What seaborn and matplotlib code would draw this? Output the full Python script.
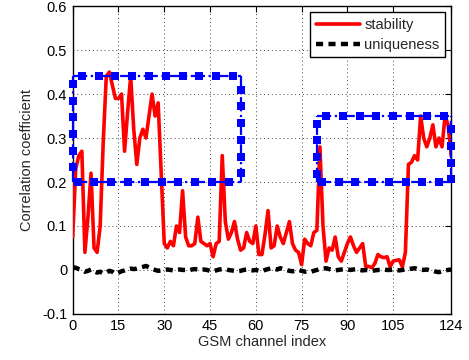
import numpy as np
import pandas as pd
import matplotlib
matplotlib.use("Agg")
import matplotlib.pyplot as plt
import seaborn as sns

# ---- data ----
stability = [
    0.075, 0.23, 0.26, 0.27, 0.04, 0.12, 0.22, 0.05, 0.04, 0.10,
    0.29, 0.44, 0.45, 0.42, 0.39, 0.39, 0.40, 0.27, 0.36, 0.44,
    0.32, 0.24, 0.30, 0.32, 0.30, 0.35, 0.40, 0.35, 0.38, 0.22,
    0.06, 0.05, 0.065, 0.055, 0.10, 0.085, 0.18, 0.075, 0.055, 0.055,
    0.06, 0.12, 0.065, 0.06, 0.055, 0.06, 0.03, 0.06, 0.065, 0.26,
    0.11, 0.07, 0.085, 0.11, 0.07, 0.045, 0.05, 0.085, 0.065, 0.06,
    0.10, 0.035, 0.035, 0.08, 0.135, 0.05, 0.055, 0.10, 0.075, 0.06,
    0.085, 0.11, 0.06, 0.045, 0.04, 0.012, 0.07, 0.06, 0.055, 0.085,
    0.09, 0.28, 0.10, 0.02, 0.05, 0.045, 0.075, 0.03, 0.02, 0.04,
    0.06, 0.075, 0.055, 0.04, 0.05, 0.06, 0.008, 0.008, 0.005, 0.015,
    0.035, 0.03, 0.028, 0.03, 0.007, 0.02, 0.022, 0.023, 0.007, 0.04,
    0.24, 0.245, 0.26, 0.25, 0.35, 0.30, 0.28, 0.30, 0.33, 0.28,
    0.30, 0.28, 0.35, 0.33, 0.26,
]
uniqueness = [
    0.006, 0.005, 0.002, 0.000, -0.004, -0.002, 0.001, -0.003, -0.006, -0.004,
    -0.008, -0.006, -0.002, -0.004, -0.009, -0.006, -0.003, -0.001, 0.002, 0.003,
    0.002, 0.003, 0.005, 0.007, 0.009, 0.006, 0.002, 0.000, -0.002, -0.001,
    0.000, 0.001, 0.000, -0.001, 0.000, 0.001, 0.000, 0.000, -0.001, 0.001,
    0.002, 0.001, 0.000, 0.001, 0.000, -0.002, -0.003, -0.001, 0.001, 0.002,
    0.002, 0.000, -0.001, -0.002, -0.003, -0.002, 0.000, 0.001, 0.000, -0.001,
    0.000, -0.002, -0.003, 0.000, 0.002, 0.004, 0.003, 0.001, 0.004, 0.002,
    0.000, -0.002, -0.003, -0.002, 0.000, -0.002, -0.004, -0.003, -0.004, -0.002,
    0.000, 0.002, 0.003, 0.004, 0.002, 0.000, -0.001, 0.000, 0.001, 0.002,
    0.001, 0.000, 0.001, 0.002, 0.000, -0.001, 0.000, -0.001, -0.002, -0.001,
    0.000, 0.000, 0.001, 0.000, 0.000, 0.001, 0.000, -0.001, 0.000, 0.001,
    0.002, 0.003, 0.004, 0.002, 0.001, 0.000, 0.001, -0.001, -0.002, -0.004,
    -0.005, -0.003, -0.001, 0.000, 0.001,
]
channel = list(range(len(stability)))

# highlighted regions: (x_start, x_end), (y_low, y_high)
box_x = [(0, 55), (80, 124)]
box_y = [(0.20, 0.44), (0.20, 0.35)]

xticks = [0, 15, 30, 45, 60, 75, 90, 105, 124]
yticks = [-0.1, 0, 0.1, 0.2, 0.3, 0.4, 0.5, 0.6]
ytick_labels = ["-0.1", "0", "0.1", "0.2", "0.3", "0.4", "0.5", "0.6"]

# ---- plot ----
sns.set_style("white")
plt.rcParams["font.family"] = ["Liberation Sans", "DejaVu Sans"]

fig = plt.figure(figsize=(4.69, 3.60), dpi=100)
ax = fig.add_axes([0.155, 0.128, 0.807, 0.855])

df = pd.DataFrame({"channel": channel, "stability": stability, "uniqueness": uniqueness})

sns.lineplot(data=df, x="channel", y="stability", ax=ax, color="#ff0000",
             linewidth=2.6, label="stability", zorder=3)
sns.lineplot(data=df, x="channel", y="uniqueness", ax=ax, color="black",
             linewidth=3.2, linestyle=(0, (1.6, 1.2)), label="uniqueness", zorder=3)

blue = "#0000ff"
def side(xs, ys, mx, my):
    ax.plot(xs, ys, color=blue, linestyle="-.", linewidth=1.6, zorder=4, clip_on=False)
    ax.plot(mx, my, color=blue, linestyle="none", marker="s",
            markersize=6, markeredgewidth=0, zorder=4, clip_on=False)

for (x0, x1), (y0, y1) in zip(box_x, box_y):
    hx_top = np.arange(x0 + 3.0, x1 - 1.0, 5.5)
    hx_bot = np.arange(x0 + 1.6, x1 - 1.0, 5.5)
    vy_l = np.arange(y1 - 0.017, y0 + 0.005, -0.038)
    vy_r = np.arange(y1 - 0.03, y0 + 0.005, -0.038)
    side([x0, x1], [y1, y1], hx_top, np.full_like(hx_top, y1))
    side([x0, x1], [y0, y0], hx_bot, np.full_like(hx_bot, y0))
    side([x0, x0], [y0, y1], np.full_like(vy_l, x0), vy_l)
    side([x1, x1], [y0, y1], np.full_like(vy_r, x1), vy_r)

ax.set_xlim(0, 124)
ax.set_ylim(-0.1, 0.6)
ax.set_xticks(xticks)
ax.set_yticks(yticks)
ax.set_yticklabels(ytick_labels)
ax.tick_params(direction="in", length=4, width=0.8, top=True, right=True,
               labelsize=10.5, colors="black", pad=4)
ax.grid(True, color="#444444", linestyle=(0, (1, 3)), linewidth=0.7)
for s in ax.spines.values():
    s.set_visible(True)
    s.set_color("black")
    s.set_linewidth(1.0)
ax.set_xlabel("GSM channel index", fontsize=10.5, labelpad=1)
ax.set_ylabel("Correlation coefficient", fontsize=10.5, labelpad=6)

leg = ax.legend(loc="upper right", fontsize=10.5, frameon=True, fancybox=False,
                edgecolor="black", framealpha=1, borderpad=0.4, labelspacing=0.4,
                handlelength=3.0, handletextpad=0.3, borderaxespad=0.4)
leg.get_frame().set_linewidth(1.0)

fig.savefig("out.png", dpi=100)
